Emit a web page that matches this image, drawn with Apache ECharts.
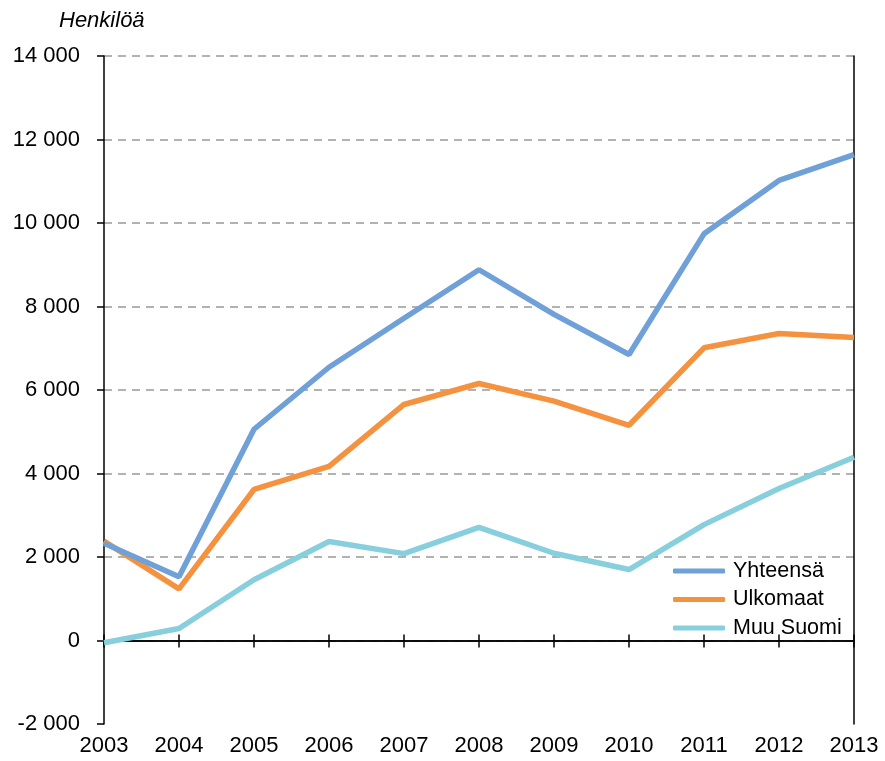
<!DOCTYPE html>
<html>
<head>
    <meta charset="utf-8" />
    <script src="https://cdn.jsdelivr.net/npm/echarts@6/dist/echarts.min.js"></script>
    <style>
        html, body { margin: 0; padding: 0; background: #fff; }
        #main { width: 885px; height: 761px; }
    </style>
</head>
<body>
    <div id="main"></div>
    <script type="text/javascript">
        // vuodet ja sarjat
        var years = ['2003', '2004', '2005', '2006', '2007', '2008', '2009', '2010', '2011', '2012', '2013'];
        var yhteensa = [2330, 1525, 5060, 6545, 7720, 8880, 7810, 6850, 9740, 11020, 11640];
        var ulkomaat = [2380, 1238, 3617, 4168, 5653, 6156, 5735, 5155, 7011, 7353, 7257];
        var muuSuomi = [-55, 287, 1455, 2370, 2080, 2710, 2090, 1700, 2775, 3640, 4390];

        var FONT = '"Liberation Sans", Arial, sans-serif';

        function fmt(v) {
            var s = Math.abs(v).toString();
            var out = s.replace(/\B(?=(\d{3})+(?!\d))/g, ' ');
            return (v < 0 ? '-' : '') + out;
        }

        // akseli nollan kohdalla (viiva + tikit)
        function zeroAxis(inside) {
            return {
                type: 'category',
                data: years,
                boundaryGap: false,
                position: 'bottom',
                axisLine: { show: true, onZero: true, lineStyle: { color: '#000', width: 1.5 } },
                axisTick: { show: true, inside: inside, alignWithLabel: true, length: inside ? 6 : 7, lineStyle: { color: '#000', width: 1.5 } },
                axisLabel: { show: false },
                splitLine: { show: false }
            };
        }

        var myChart = echarts.init(document.getElementById('main'));
        var option = {
            backgroundColor: '#fff',
            animation: false,
            title: {
                text: 'Henkilöä',
                left: 54,
                top: 5,
                textStyle: { fontFamily: FONT, fontStyle: 'italic', fontWeight: 'normal', fontSize: 22, color: '#000' }
            },
            grid: { left: 104, right: 31, top: 56, bottom: 37 },
            legend: {
                orient: 'vertical',
                left: 668,
                top: 555,
                itemWidth: 52,
                itemHeight: 5,
                itemGap: 6.5,
                icon: 'roundRect',
                textStyle: { fontFamily: FONT, fontSize: 21.5, color: '#000', padding: [0, 0, 0, 3] },
                data: ['Yhteensä', 'Ulkomaat', 'Muu Suomi']
            },
            xAxis: [{
                type: 'category',
                data: years,
                boundaryGap: false,
                axisLine: { show: false, onZero: false },
                axisTick: { show: false },
                axisLabel: { fontFamily: FONT, fontSize: 22, color: '#000', margin: 11 },
                splitLine: { show: false }
            }, zeroAxis(false), zeroAxis(true)],
            yAxis: [{
                type: 'value',
                min: -2000,
                max: 14000,
                interval: 2000,
                axisLine: { show: true, lineStyle: { color: '#000', width: 1.5 } },
                axisTick: { show: true, length: 7, lineStyle: { color: '#000', width: 1.5 } },
                axisLabel: { fontFamily: FONT, fontSize: 22, color: '#000', margin: 24, formatter: fmt },
                splitLine: {
                    show: true,
                    lineStyle: { color: ['rgba(0,0,0,0)', '#999', '#999', '#999', '#999', '#999', '#999', '#999', '#999'], type: [8, 6], width: 1.5 }
                }
            }, {
                type: 'value',
                position: 'right',
                min: -2000,
                max: 14000,
                interval: 2000,
                axisLine: { show: true, lineStyle: { color: '#000', width: 1.5 } },
                axisTick: { show: false },
                axisLabel: { show: false },
                splitLine: { show: false }
            }],
            series: [{
                name: 'Yhteensä',
                type: 'line',
                data: yhteensa,
                showSymbol: false,
                symbol: 'none',
                color: '#6fa0d8',
                lineStyle: { width: 5.5, color: '#6fa0d8' },
                z: 5
            }, {
                name: 'Ulkomaat',
                type: 'line',
                data: ulkomaat,
                showSymbol: false,
                symbol: 'none',
                color: '#f4923f',
                lineStyle: { width: 5.5, color: '#f4923f' },
                z: 4
            }, {
                name: 'Muu Suomi',
                type: 'line',
                data: muuSuomi,
                showSymbol: false,
                symbol: 'none',
                color: '#88cfdd',
                lineStyle: { width: 5.5, color: '#88cfdd' },
                z: 3
            }]
        };
        myChart.setOption(option);
    </script>
</body>
</html>
